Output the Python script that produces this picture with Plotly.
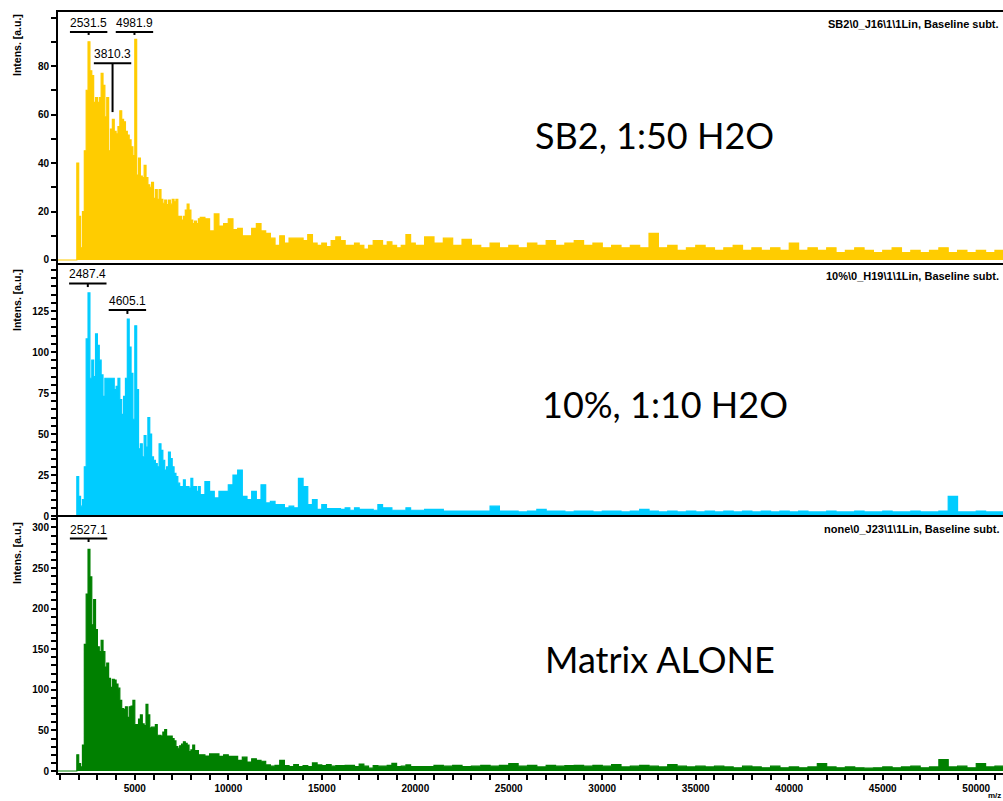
import plotly.graph_objects as go

# ---------------- data ----------------
MZ = [
    800, 900, 1000, 1100, 1200, 1300, 1400, 1500, 1600, 1700,
    1800, 1900, 2000, 2100, 2200, 2300, 2400, 2500, 2600, 2700,
    2800, 2900, 3000, 3100, 3200, 3300, 3400, 3500, 3600, 3700,
    3800, 3900, 4000, 4100, 4200, 4300, 4400, 4500, 4600, 4700,
    4800, 4900, 5000, 5100, 5200, 5300, 5400, 5500, 5600, 5700,
    5800, 5900, 6000, 6100, 6200, 6300, 6400, 6500, 6600, 6700,
    6800, 6900, 7000, 7100, 7200, 7300, 7400, 7500, 7600, 7700,
    7800, 7900, 8000, 8100, 8200, 8300, 8400,
    8500, 8750, 9000, 9250, 9500, 9750, 10000, 10250, 10500, 10750,
    11000, 11250, 11500, 11750, 12000, 12250, 12500, 12750, 13000, 13250,
    13500, 13750, 14000, 14250, 14500, 14750, 15000, 15250, 15500, 15750,
    16000, 16250, 16500, 16750, 17000, 17250, 17500, 17750, 18000, 18250,
    18500, 18750, 19000, 19250, 19500, 19750,
    20000, 20500, 21000, 21500, 22000, 22500,
    23000, 23500, 24000, 24500, 25000, 25500, 26000, 26500, 27000, 27500,
    28000, 28500, 29000, 29500, 30000, 30500, 31000, 31500, 32000, 32500,
    33000, 33500, 34000, 34500, 35000, 35500, 36000, 36500, 37000, 37500,
    38000, 38500, 39000, 39500, 40000, 40500, 41000, 41500, 42000, 42500,
    43000, 43500, 44000, 44500, 45000, 45500, 46000, 46500, 47000, 47500,
    48000, 48500, 49000, 49500, 50000, 50500, 51000, 51500,
]

SB2_INTENS = [
    0, 0, 0, 0, 0, 0, 0, 0, 0, 0,
    0, 40, 18, 5, 20, 45, 70, 90, 78, 76,
    65, 67, 65, 67, 77, 72, 59, 67, 45, 54,
    58, 53, 52, 55, 61.5, 58, 57, 53, 51.5, 49.5,
    46.7, 43, 91, 35, 42, 34.6, 34, 39, 34, 31,
    30, 32, 25.4, 29, 25, 29, 25, 23.4, 24.7, 22.8,
    24.7, 23, 25, 24, 25, 18, 18, 16.5, 18, 20.6,
    23, 20.6, 16.5, 15, 16, 15, 17,
    17.6, 17, 12, 19, 14, 15, 17, 12.5, 13, 10,
    10, 13, 15, 12, 11, 9, 6, 10, 7, 9,
    9, 9, 8, 10.5, 7, 6, 7, 5.5, 8, 9.5,
    8, 6, 6, 7, 6, 4.5, 6, 8, 8, 6,
    7.5, 6, 5, 6, 10.5, 7,
    6, 9.5, 7, 9, 6, 8.5,
    6, 5, 7, 5, 6, 5, 7, 6, 8, 6,
    7, 8, 6, 7, 5, 6, 5, 6, 5, 11,
    5, 6, 4, 5, 6, 5, 4, 5, 6, 4,
    5, 4, 5, 4, 7, 4, 5, 4, 5, 3,
    4, 5, 4, 3, 4, 5, 3, 4, 3, 4,
    5, 3, 4, 3, 4, 3, 4, 3,
]

TEN_INTENS = [
    0, 0, 0, 0, 0, 0, 0, 0, 0, 0,
    0, 24, 12, 6, 10, 30, 108, 136, 84, 95,
    85, 111, 104, 95, 86, 73, 84, 84, 84, 84,
    84, 77, 79, 84, 71, 62, 73, 84, 120, 103,
    87, 59, 116, 77, 41, 44, 36, 49, 42, 60,
    50, 36, 34, 32, 30, 44, 40, 34, 28, 30,
    39, 35, 30, 26, 24, 20, 18, 18, 22, 18,
    18, 17, 23, 18, 18, 15, 18,
    13, 21, 15, 11, 15, 15, 19, 25, 28, 12,
    10, 15, 10, 19, 8, 9, 7, 7, 5, 6,
    5, 23, 18, 7, 10, 4, 7, 4.5, 4.5, 4.5,
    4, 5, 3.5, 5, 4, 4, 4, 3.5, 7, 5,
    5, 3.5, 3.5, 3.5, 5, 3.5,
    3.5, 4, 4, 3, 3, 3,
    3, 3, 6, 3, 3, 2.5, 3, 4, 3, 3,
    2.5, 3, 3, 2.5, 3, 3, 2.5, 3, 4, 3,
    2.5, 3, 2.5, 3, 2.5, 3, 2.5, 3, 2.5, 3,
    2.5, 3, 2.5, 3, 2.5, 3, 2.5, 2.5, 3, 2.5,
    2.5, 3, 2.5, 2.5, 3, 2.5, 2.5, 3, 2.5, 2.5,
    3, 12, 2.5, 2.5, 3, 2.5, 2.5, 2.5,
]

MATRIX_INTENS = [
    0, 0, 0, 0, 0, 0, 0, 0, 0, 0,
    0, 20, 9, 5, 32, 156, 218, 273, 239, 180,
    211, 174, 153, 147, 161, 147, 128, 133, 114, 103,
    113, 112, 107, 102, 87, 77, 76, 79, 66, 79,
    80, 87, 57, 57, 64, 69, 58, 56, 82, 69,
    53, 54, 54, 57, 44, 44, 43, 48, 51, 43,
    43, 43, 40, 37, 30, 28, 31, 33, 36, 34,
    32, 24, 26, 32, 25, 25, 20,
    20, 18.5, 21, 21, 18, 20, 18, 18, 13, 17,
    11, 15, 13, 12, 7.5, 6, 7, 13, 6.5, 5.5,
    8, 5.5, 6.5, 5.5, 10, 7.5, 6.5, 8, 6, 6.5,
    6.5, 7, 7, 5.5, 8.6, 6, 3.5, 6.5, 6, 6,
    7, 9.4, 5.5, 6, 7.5, 5.5,
    5.5, 5.5, 7, 6, 7, 5.5,
    6, 7, 6, 7, 9, 6, 7, 5, 7, 6,
    6.5, 7, 6, 7, 6, 8, 5, 6, 7, 6,
    5, 8, 6, 5, 6, 5, 6, 5, 4, 6,
    5, 4, 6, 4, 5, 4, 5, 9, 5, 4,
    5, 4, 3.5, 4, 5, 4, 5, 6, 4, 5,
    14, 5, 6, 4, 9, 5, 6, 5,
]

for arr in (SB2_INTENS, TEN_INTENS, MATRIX_INTENS):
    assert len(arr) == len(MZ), (len(arr), len(MZ))

SAMPLE_LABELS = ["SB2, 1:50 H2O", "10%, 1:10 H2O", "Matrix ALONE"]
FILE_LABELS = ["SB2\\0_J16\\1\\1Lin, Baseline subt.",
               "10%\\0_H19\\1\\1Lin, Baseline subt.",
               "none\\0_J23\\1\\1Lin, Baseline subt."]
PEAKS_SB2 = [2531.5, 4981.9, 3810.3]
PEAKS_TEN = [2487.4, 4605.1]
PEAKS_MATRIX = [2527.1]
X_TICKS = [5000, 10000, 15000, 20000, 25000, 30000, 35000, 40000, 45000, 50000]
Y_TICKS_SB2 = [0, 20, 40, 60, 80]
Y_TICKS_TEN = [0, 25, 50, 75, 100, 125]
Y_TICKS_MATRIX = [0, 50, 100, 150, 200, 250, 300]

# ---------------- styling ----------------
COLORS = ["#FFCC00", "#00CCFF", "#008000"]
W, H = 1003, 801
ML, MT, MB = 58, 12, 28
PW, PH = W - ML, H - MT - MB
FONT = "Liberation Sans, Arial, sans-serif"


def px(x):
    return (x - ML) / PW


def py(y):
    return (H - MB - y) / PH


fig = go.Figure()
series = [SB2_INTENS, TEN_INTENS, MATRIX_INTENS]
for i, vals in enumerate(series):
    fig.add_trace(go.Scatter(
        x=MZ, y=vals, mode="lines",
        line=dict(color=COLORS[i], width=1.2, shape="hv"),
        fill="tozeroy", fillcolor=COLORS[i],
        xaxis="x" if i == 0 else f"x{i+1}",
        yaxis="y" if i == 0 else f"y{i+1}",
        hoverinfo="skip", showlegend=False,
    ))

XR = [893, 51430]
tickfont = dict(family=FONT, size=10, color="black", weight="bold")
common_x = dict(range=XR, showgrid=False, zeroline=False, showline=True,
                linecolor="black", linewidth=2)
domains = [[py(263), 1.0], [py(517), py(265)], [0.0, py(517)]]
yranges = [[-1.24, 102.27], [-0.61, 153.05], [-2.46, 312.8]]
ytickvals = [Y_TICKS_SB2, Y_TICKS_TEN, Y_TICKS_MATRIX]
yminor = [10, 5, 10]

layout = dict(
    width=W, height=H,
    margin=dict(l=ML, r=0, t=MT, b=MB, pad=0),
    paper_bgcolor="white", plot_bgcolor="white",
    showlegend=False,
)
layout["xaxis"] = dict(common_x, anchor="y", side="top", ticks="", showticklabels=False)
layout["xaxis2"] = dict(common_x, anchor="y2", side="top", ticks="", showticklabels=False)
layout["xaxis3"] = dict(common_x, anchor="y3", side="bottom", mirror=True,
                        ticks="outside", ticklen=5, tickwidth=2, tickcolor="black",
                        tickvals=X_TICKS, tickformat="d", tickfont=tickfont,
                        minor=dict(dtick=1000, tick0=0, ticks="outside", ticklen=5,
                                   tickwidth=2, tickcolor="black"))
for i in range(3):
    key = "yaxis" if i == 0 else f"yaxis{i+1}"
    layout[key] = dict(
        domain=domains[i], anchor="x" if i == 0 else f"x{i+1}",
        range=yranges[i], showgrid=False, zeroline=False,
        showline=True, linecolor="black", linewidth=2,
        ticks="outside", ticklen=5, tickwidth=2, tickcolor="black",
        tickvals=ytickvals[i], tickfont=tickfont,
        minor=dict(dtick=yminor[i], tick0=0, ticks="outside", ticklen=5,
                   tickwidth=2, tickcolor="black"),
    )
fig.update_layout(**layout)

annotations = []
shapes = []
# y-axis titles
for ytop in (12, 267, 520):
    annotations.append(dict(
        text="Intens. [a.u.]", x=px(17), y=py(ytop), xref="paper", yref="paper",
        xanchor="center", yanchor="top", textangle=-90, showarrow=False,
        font=dict(family=FONT, size=10.5, color="black", weight="bold")))
# file labels top right
for lab, yc in zip(FILE_LABELS, (24, 276, 529)):
    annotations.append(dict(
        text=lab, x=px(1001), y=py(yc), xref="paper", yref="paper",
        xanchor="right", yanchor="middle", showarrow=False,
        font=dict(family=FONT, size=11, color="black", weight="bold")))
# big sample labels
for lab, (xl, yc) in zip(SAMPLE_LABELS, [(533, 135), (540, 404), (543, 659)]):
    annotations.append(dict(
        text=lab, x=px(xl), y=py(yc), xref="paper", yref="paper",
        xanchor="left", yanchor="middle", showarrow=False,
        font=dict(family="Lato, Carlito, Calibri, sans-serif", size=36, color="black")))
# m/z axis label (below the last tick label)
annotations.append(dict(
    text="m/z", x=px(1002), y=py(801), xref="paper", yref="paper",
    xanchor="right", yanchor="bottom", showarrow=False, borderpad=0,
    font=dict(family=FONT, size=8, color="black", weight="bold")))

# peak labels: (peaks, axis suffix, bar level, tick end level)
peak_sets = [
    (PEAKS_SB2, "", [94.0, 94.0, 81.1], [92.8, 92.8, 61.0]),
    (PEAKS_TEN, "2", [141.8, 125.6], [139.6, 123.2]),
    (PEAKS_MATRIX, "3", [286.3], [282.0]),
]
for peaks, sfx, bars, ends in peak_sets:
    xr, yr = "x" + sfx, "y" + sfx
    for mz, b, e in zip(peaks, bars, ends):
        shapes.append(dict(type="line", xref=xr, yref=yr, x0=mz - 1000, x1=mz + 1000,
                           y0=b, y1=b, line=dict(color="black", width=2)))
        shapes.append(dict(type="line", xref=xr, yref=yr, x0=mz, x1=mz,
                           y0=b, y1=e, line=dict(color="black", width=2)))
        annotations.append(dict(
            text=f"{mz:.1f}", x=mz, y=b, xref=xr, yref=yr,
            xanchor="center", yanchor="bottom", showarrow=False, yshift=0,
            font=dict(family=FONT, size=12, color="black")))

fig.update_layout(annotations=annotations, shapes=shapes)

fig.write_html("out.html", config=dict(displayModeBar=False),
               post_script="document.body.style.margin='0px';")
